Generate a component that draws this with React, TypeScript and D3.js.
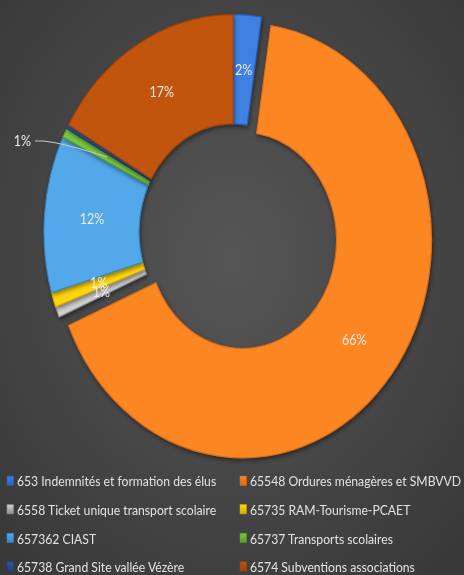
import React from "react";
import * as d3 from "d3";

const categories = [
  "653 Indemnités et formation des élus",
  "65548 Ordures ménagères et SMBVVD",
  "6558 Ticket unique transport scolaire",
  "65735 RAM-Tourisme-PCAET",
  "657362 CIAST",
  "65737 Transports scolaires",
  "65738 Grand Site vallée Vézère",
  "6574 Subventions associations",
];
const values = [2.4, 66.2, 0.8, 1.1, 11.7, 0.7, 0.3, 16.8];
const labels = ["2%", "66%", "1%", "1%", "12%", "1%", "", "17%"];
const colorsLight = ["#3f80e2", "#fb8624", "#d0d0d0", "#fcd40c", "#52a8ea", "#78c83c", "#2f5aa0", "#c2540e"];
const colorsDark = ["#2a60c0", "#e06c16", "#8e8e8e", "#d8aa00", "#3688cc", "#52a028", "#1e3f7e", "#a04208"];

const W = 464;
const H = 575;
const SY = 1.15;
const cx = 233;
const cy = 201.7;
const rOuter = 189;
const rInner = 94;
const explode = [0, 12, 0, 0, 0, 0, 0, 0];

export default function App() {
  const pie = d3.pie<number>().sort(null).value((d) => d)(values);
  const arc = d3.arc<d3.PieArcDatum<number>>().innerRadius(rInner).outerRadius(rOuter);
  const labelArc = d3.arc<d3.PieArcDatum<number>>().innerRadius((rInner + rOuter) / 2).outerRadius((rInner + rOuter) / 2);
  const font = "Lato, 'Open Sans', sans-serif";

  return (
    <svg width={W} height={H} style={{ position: "fixed", left: 0, top: 0, display: "block" }}>
      <defs>
        <radialGradient id="bg" cx="50%" cy="45%" r="70%">
          <stop offset="0%" stopColor="#565656" />
          <stop offset="100%" stopColor="#393939" />
        </radialGradient>
        {values.map((_, i) => (
          <linearGradient key={i} id={`g${i}`} x1="0" y1="0" x2="0" y2="1">
            <stop offset="0%" stopColor={colorsLight[i]} />
            <stop offset="100%" stopColor={colorsDark[i]} />
          </linearGradient>
        ))}
        <filter id="sh" x="-20%" y="-20%" width="140%" height="140%">
          <feDropShadow dx="1" dy="2" stdDeviation="2" floodColor="#000" floodOpacity="0.45" />
        </filter>
      </defs>
      <rect width={W} height={H} fill="url(#bg)" />
      <g transform={`scale(1,${SY})`}>
        <g transform={`translate(${cx},${cy})`}>
          {pie.map((p, i) => {
            const mid = (p.startAngle + p.endAngle) / 2;
            const dx = Math.sin(mid) * explode[i];
            const dy = -Math.cos(mid) * explode[i];
            return (
              <g key={i} transform={`translate(${dx},${dy})`}>
                <path
                  d={arc(p) as string}
                  fill={colorsLight[i]}
                  stroke={colorsDark[i]}
                  strokeWidth={1}
                  filter="url(#sh)"
                />
              </g>
            );
          })}
          {pie.map((p, i) => {
            const mid = (p.startAngle + p.endAngle) / 2;
            const dx = Math.sin(mid) * explode[i];
            const dy = -Math.cos(mid) * explode[i];
            const [lx, ly] = labelArc.centroid(p);
            if (!labels[i] || i === 5) return null;
            return (
              <text
                key={i}
                x={lx + dx}
                y={ly + dy}
                textAnchor="middle"
                dominantBaseline="central"
                fill="#ececec"
                fontFamily={font}
                fontSize={12.5}
              >
                {labels[i]}
              </text>
            );
          })}
          {(() => {
            const tx = 35 - cx;
            const ty = 122.6 - cy;
            const ex = 107 - cx;
            const ey = 136.5 - cy;
            return (
              <g>
                <path
                  d={`M${tx},${ty} L${tx + 8},${ty} Q${tx + 30},${ty + 2} ${ex},${ey}`}
                  fill="none"
                  stroke="#c8c8c8"
                  strokeWidth={1}
                />
                <text x={tx - 4} y={ty} textAnchor="end" dominantBaseline="central" fill="#ececec" fontFamily={font} fontSize={12.5}>
                  {labels[5]}
                </text>
              </g>
            );
          })()}
        </g>
        {categories.map((c, i) => {
          const col = i % 2;
          const row = Math.floor(i / 2);
          const x = col === 0 ? 7 : 240;
          const y = 418.3 + row * 24.85;
          return (
            <g key={c} transform={`translate(${x},${y})`}>
              <rect x={0} y={-4.3} width={6.5} height={8} fill={`url(#g${i})`} stroke={colorsDark[i]} strokeWidth={0.5} />
              <text x={10} y={0} dominantBaseline="central" fill="#e2e2e2" fontFamily={font} fontSize={12.2}>
                {c}
              </text>
            </g>
          );
        })}
      </g>
    </svg>
  );
}
